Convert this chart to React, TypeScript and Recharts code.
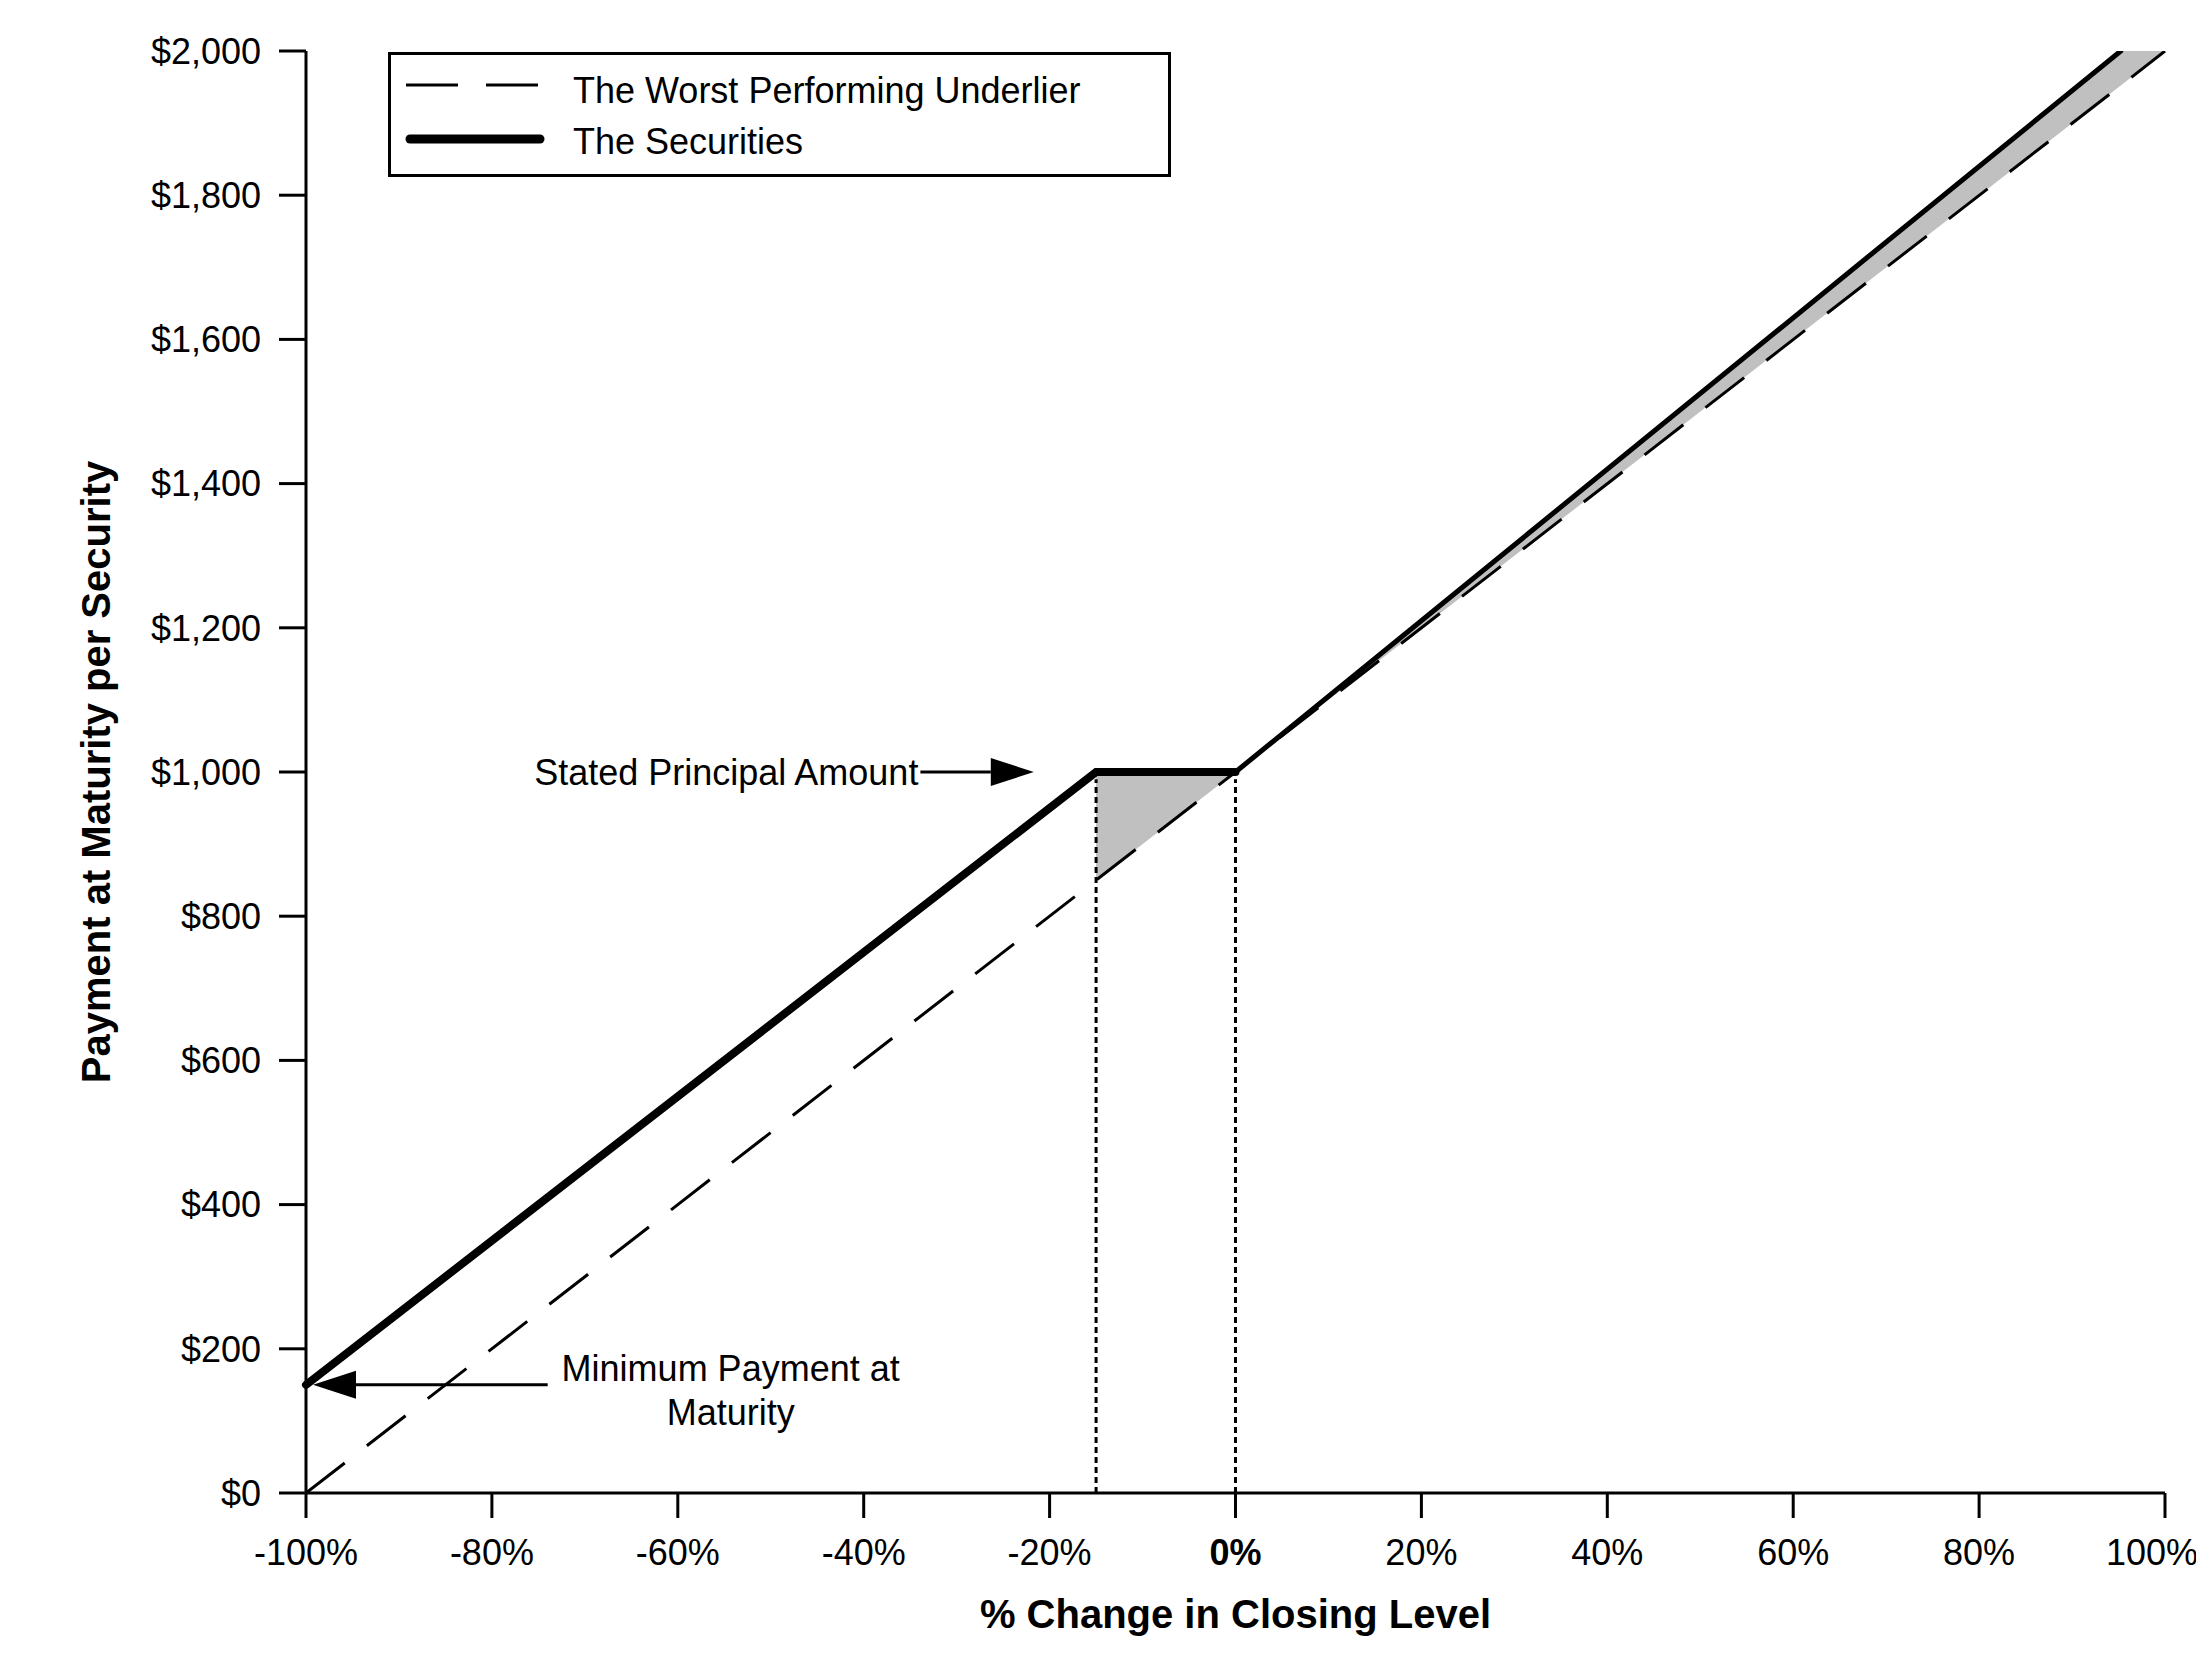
import React from 'react';
import {
  ComposedChart,
  Line,
  Area,
  XAxis,
  YAxis,
  ReferenceLine,
  Legend,
  Label
} from 'recharts';

const FONT = '"Liberation Sans", Arial, Helvetica, sans-serif';

// % change in closing level
const pctPoints = [-100, -15, 0, 95.24, 100];
// payment per security of the worst performing underlier
const underlierValues = [0, 850, 1000, 1952, 2000];
// payment per security of the securities (capped by the axis at $2,000)
const securitiesValues = [150, 1000, 1000, 2000, null];
// grey band between the two payoffs
const shadeLow = [null, 850, 1000, 1952, 2000];
const shadeHigh = [null, 1000, 1000, 2000, 2000];

const xTicks = [-100, -80, -60, -40, -20, 0, 20, 40, 60, 80, 100];
const yTicks = [0, 200, 400, 600, 800, 1000, 1200, 1400, 1600, 1800, 2000];

const rows = pctPoints.map((x, i) => ({
  x,
  underlier: underlierValues[i],
  securities: securitiesValues[i],
  shade: shadeLow[i] == null ? null : [shadeLow[i], shadeHigh[i]]
}));

const downRows = rows.filter((r) => r.x <= 0);
const upRows = rows.filter((r) => r.x >= 0 && r.securities != null);
const shadeRows = rows.filter((r) => r.shade != null);

const XTick = (props: any) => {
  const { x, y, payload } = props;
  const v = payload.value;
  const dx = v === 100 ? -13 : 0;
  return (
    <text
      x={x + dx}
      y={y}
      dy="0.71em"
      textAnchor="middle"
      fontSize={36}
      fontFamily={FONT}
      fontWeight={v === 0 ? 'bold' : 'normal'}
      fill="#000"
    >
      {`${v}%`}
    </text>
  );
};

// arrow whose tip sits at the second point of the segment
const arrowShape = (texts: (p: any) => React.ReactNode) => (p: any) => {
  const { x1, y1, x2, y2 } = p;
  const dir = x2 > x1 ? 1 : -1;
  const head = 43;
  const half = 14;
  return (
    <g>
      <line x1={x1} y1={y1} x2={x2 - dir * head} y2={y2} stroke="#000" strokeWidth={3} />
      <polygon
        points={`${x2},${y2} ${x2 - dir * head},${y2 - half} ${x2 - dir * head},${y2 + half}`}
        fill="#000"
      />
      {texts(p)}
    </g>
  );
};

const principalShape = arrowShape((p) => (
  <text x={p.x1 - 2} y={p.y1 + 13} textAnchor="end" fontSize={36} fontFamily={FONT} fill="#000">
    Stated Principal Amount
  </text>
));

const minimumShape = arrowShape((p) => (
  <g>
    <text x={p.x1 + 183} y={p.y1 - 4} textAnchor="middle" fontSize={36} fontFamily={FONT} fill="#000">
      Minimum Payment at
    </text>
    <text x={p.x1 + 183} y={p.y1 + 40} textAnchor="middle" fontSize={36} fontFamily={FONT} fill="#000">
      Maturity
    </text>
  </g>
));

const LegendBox = () => (
  <div
    style={{
      width: 783,
      height: 125,
      border: '3px solid #000',
      boxSizing: 'border-box',
      background: '#fff'
    }}
  >
    <svg width={777} height={119}>
      <line x1={15} y1={30} x2={148} y2={30} stroke="#000" strokeWidth={3} strokeDasharray="52 28" />
      <line x1={19} y1={84} x2={149} y2={84} stroke="#000" strokeWidth={9} strokeLinecap="round" />
      <text x={182} y={48} fontSize={36} fontFamily={FONT} fill="#000">
        The Worst Performing Underlier
      </text>
      <text x={182} y={99} fontSize={36} fontFamily={FONT} fill="#000">
        The Securities
      </text>
    </svg>
  </div>
);

export default function App() {
  return (
    <ComposedChart
      width={2196}
      height={1648}
      data={rows}
      margin={{ top: 43, right: 39, left: 0, bottom: 0 }}
    >
      <XAxis
        dataKey="x"
        type="number"
        domain={[-100, 100]}
        ticks={xTicks}
        interval={0}
        height={163}
        tickSize={25}
        tickMargin={21}
        tick={<XTick />}
        axisLine={{ stroke: '#000', strokeWidth: 3 }}
        tickLine={{ stroke: '#000', strokeWidth: 3 }}
      >
        <Label
          content={(props: any) => {
            const vb = props.viewBox;
            return (
              <text
                x={vb.x + vb.width / 2}
                y={1620}
                textAnchor="middle"
                fontSize={40}
                fontWeight="bold"
                fontFamily={FONT}
                fill="#000"
              >
                % Change in Closing Level
              </text>
            );
          }}
        />
      </XAxis>
      <YAxis
        type="number"
        domain={[0, 2000]}
        ticks={yTicks}
        interval={0}
        width={298}
        tickSize={27}
        tickMargin={18}
        allowDataOverflow
        tickFormatter={(v: number) => `$${v.toLocaleString('en-US')}`}
        tick={{ fill: '#000', fontSize: 36, fontFamily: FONT }}
        axisLine={{ stroke: '#000', strokeWidth: 3 }}
        tickLine={{ stroke: '#000', strokeWidth: 3 }}
      >
        <Label
          content={(props: any) => {
            const vb = props.viewBox;
            const cy = vb.y + vb.height / 2;
            return (
              <text
                x={88}
                y={cy}
                transform={`rotate(-90 88 ${cy})`}
                textAnchor="middle"
                dominantBaseline="central"
                fontSize={40}
                fontWeight="bold"
                fontFamily={FONT}
                fill="#000"
              >
                Payment at Maturity per Security
              </text>
            );
          }}
        />
      </YAxis>

      <Area
        data={shadeRows}
        dataKey="shade"
        type="linear"
        stroke="none"
        fill="#c0c0c0"
        fillOpacity={1}
        dot={false}
        activeDot={false}
        isAnimationActive={false}
      />
      <Line
        dataKey="underlier"
        type="linear"
        stroke="#000"
        strokeWidth={3}
        strokeDasharray="49 28"
        dot={false}
        activeDot={false}
        isAnimationActive={false}
      />
      <ReferenceLine
        segment={[{ x: -15, y: 0 }, { x: -15, y: 990 }]}
        stroke="#000"
        strokeWidth={3}
        strokeDasharray="6 4"
      />
      <ReferenceLine
        segment={[{ x: 0, y: 0 }, { x: 0, y: 990 }]}
        stroke="#000"
        strokeWidth={3}
        strokeDasharray="6 4"
      />
      <Line
        data={downRows}
        dataKey="securities"
        type="linear"
        stroke="#000"
        strokeWidth={8}
        strokeLinecap="round"
        dot={false}
        activeDot={false}
        isAnimationActive={false}
      />
      <Line
        data={upRows}
        dataKey="securities"
        type="linear"
        stroke="#000"
        strokeWidth={5}
        strokeLinecap="round"
        dot={false}
        activeDot={false}
        isAnimationActive={false}
      />
      <ReferenceLine
        segment={[{ x: -33.9, y: 1000 }, { x: -21.7, y: 1000 }]}
        shape={principalShape}
      />
      <ReferenceLine
        segment={[{ x: -74, y: 150 }, { x: -99.25, y: 150 }]}
        shape={minimumShape}
      />
      <Legend
        layout="horizontal"
        verticalAlign="middle"
        align="center"
        content={() => <LegendBox />}
        wrapperStyle={{ top: 44, left: 380, width: 783, height: 125 }}
      />
    </ComposedChart>
  );
}
